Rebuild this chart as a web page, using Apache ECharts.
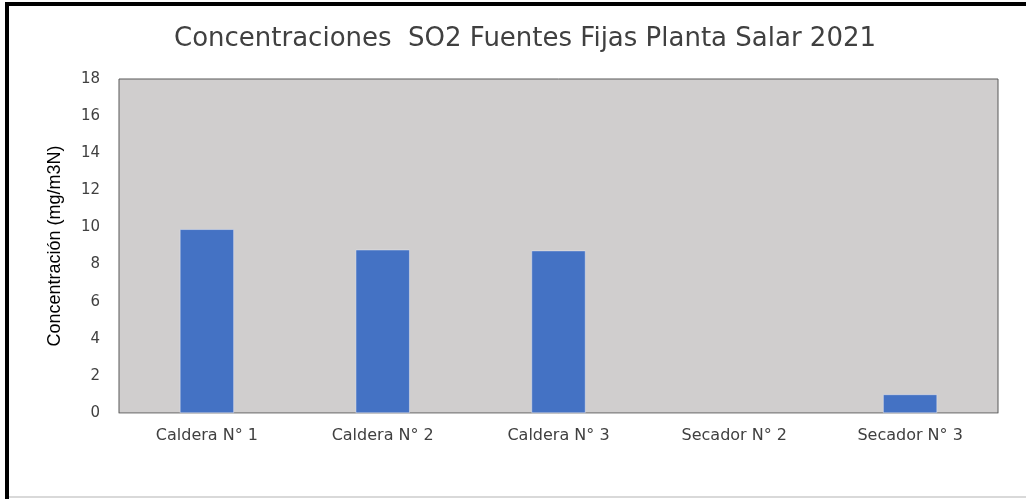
<!DOCTYPE html>
<html>
<head>
<meta charset="utf-8">
<script src="https://cdn.jsdelivr.net/npm/echarts@6/dist/echarts.min.js"></script>
<style>
html,body{margin:0;padding:0;background:#fff;}
#chart{width:1026px;height:499px;}
</style>
</head>
<body>
<div id="chart"></div>
<script>
const categories = ["Caldera N° 1", "Caldera N° 2", "Caldera N° 3", "Secador N° 2", "Secador N° 3"];
const values = [9.9, 8.8, 8.75, null, 1.0];
const titleText = "Concentraciones  SO2 Fuentes Fijas Planta Salar 2021";
const yAxisName = "Concentración (mg/m3N)";

const chart = echarts.init(document.getElementById('chart'), null, {renderer: 'canvas'});
chart.setOption({
  backgroundColor: '#ffffff',
  animation: false,
  title: {
    text: titleText,
    left: 520, top: 21, textAlign: 'center',
    textStyle: {fontFamily: 'DejaVu Sans', fontWeight: 'normal', fontSize: 26, color: '#404040'}
  },
  graphic: [
    {type: 'rect', shape: {x: 5, y: 2, width: 4, height: 497}, style: {fill: '#000'}, silent: true},
    {type: 'rect', shape: {x: 5, y: 2, width: 1021, height: 4}, style: {fill: '#000'}, silent: true},
    {type: 'rect', shape: {x: 9, y: 496, width: 1017, height: 2}, style: {fill: '#d9d9d9'}, silent: true}
  ],
  grid: {
    left: 119, top: 79, width: 879, height: 334,
    show: true, backgroundColor: '#d0cece', borderColor: '#595959', borderWidth: 1
  },
  xAxis: {
    type: 'category', data: categories,
    axisLine: {show: true, lineStyle: {color: '#bfbfbf', width: 1}},
    axisTick: {show: false},
    axisLabel: {color: '#404040', fontFamily: 'DejaVu Sans', fontSize: 16, margin: 15}
  },
  yAxis: {
    type: 'value', min: 0, max: 18, interval: 2,
    name: yAxisName, nameLocation: 'middle', nameGap: 55,
    nameTextStyle: {color: '#000', fontFamily: 'Liberation Sans Narrow, Arial Narrow, Liberation Sans', fontSize: 18},
    axisLine: {show: false}, axisTick: {show: false},
    splitLine: {show: false},
    axisLabel: {color: '#404040', fontFamily: 'DejaVu Sans', fontSize: 15, margin: 19}
  },
  series: [{
    type: 'bar', data: values, barWidth: 54,
    itemStyle: {color: '#4472c4', borderColor: '#e8e8f0', borderWidth: 0.5}
  }]
});
</script>
</body>
</html>
